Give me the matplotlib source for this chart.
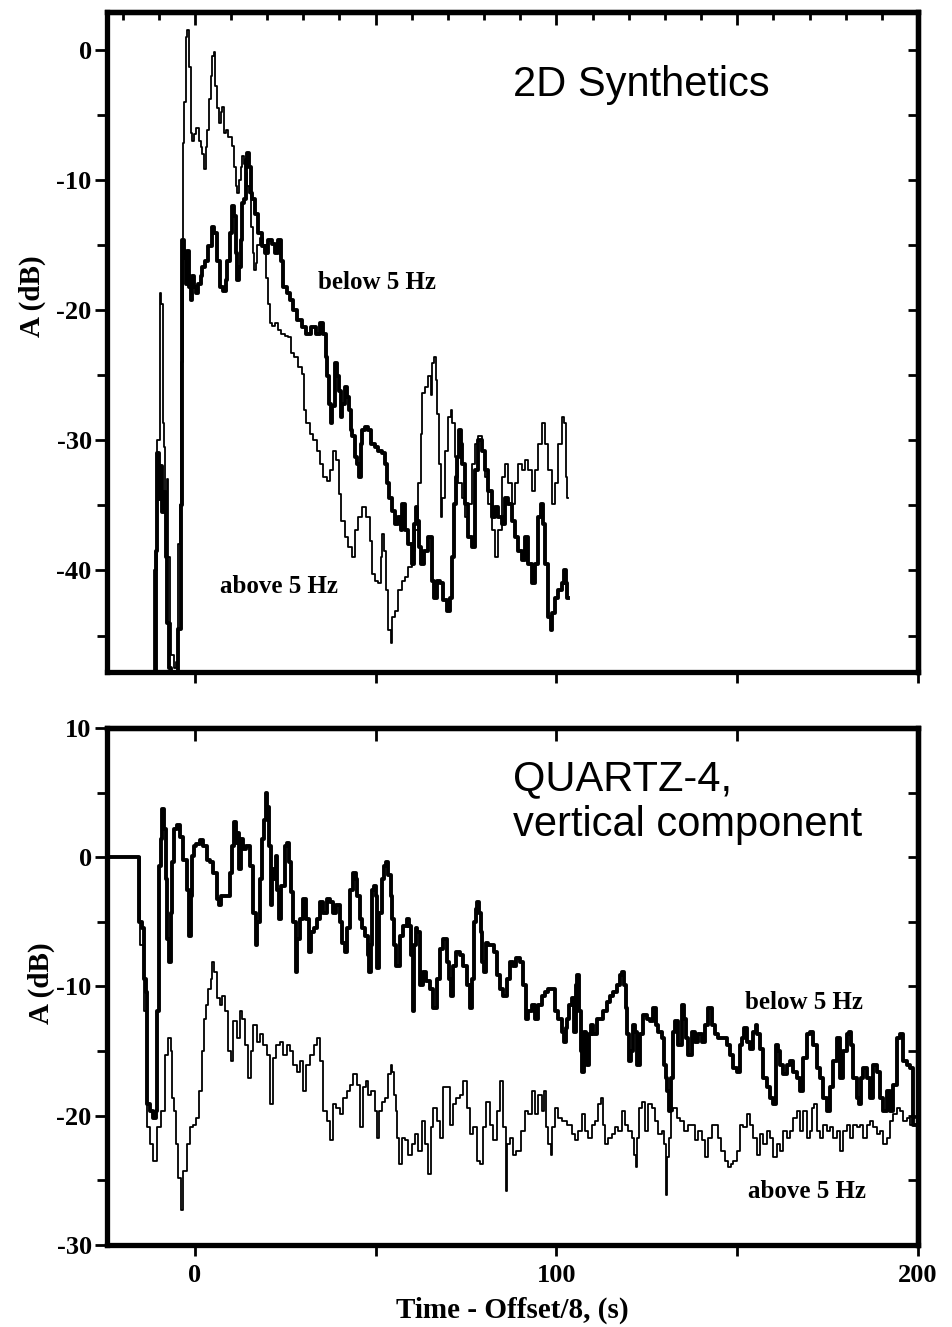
import numpy as np
import matplotlib.pyplot as plt
from matplotlib.ticker import MultipleLocator, NullFormatter

plt.rcParams['font.family'] = 'Liberation Serif'
plt.rcParams['font.weight'] = 'bold'
plt.rcParams['axes.labelweight'] = 'bold'
plt.rcParams['axes.unicode_minus'] = False

# 2D synthetics, below 5 Hz (thick)  -- (time, dB)
synth_below = [
    (-11.8, -50), (-10.7, -50), (-10.6, -38.5), (-10.2, -31.0), (-9.7, -34.5), (-9.2, -32.0),
    (-8.8, -35.5), (-8.3, -34.0), (-7.9, -39.0), (-7.5, -44.0), (-7.0, -47.5), (-6.2, -48.5),
    (-5.0, -48.5), (-4.2, -44.5), (-3.7, -35.0), (-3.2, -14.6), (-2.8, -16.0), (-2.3, -18.0),
    (-1.85, -15.5), (-1.4, -18.2), (-0.9, -19.2), (-0.5, -17.4), (0.0, -18.2), (0.5, -18.7),
    (1.4, -18.0), (1.8, -17.4), (2.3, -16.7), (3.2, -16.2), (4.2, -15.1), (5.1, -13.6),
    (5.5, -14.1), (6.5, -16.2), (7.4, -18.2), (8.3, -18.5), (8.8, -17.7), (9.2, -16.2),
    (10.1, -14.1), (10.6, -12.0), (11.1, -12.8), (11.5, -15.6), (12.0, -17.7), (12.5, -16.7),
    (12.9, -14.6), (13.4, -11.8), (13.8, -11.5), (14.3, -8.5), (14.8, -7.9), (15.2, -9.0),
    (15.7, -11.0), (16.1, -11.5), (17.1, -12.6), (18.0, -14.1), (18.9, -15.1), (19.8, -15.6),
    (20.7, -14.6), (21.7, -14.9), (22.6, -15.6), (23.5, -14.6), (24.0, -16.2), (24.9, -18.2),
    (25.8, -18.7), (26.7, -19.2), (27.7, -20.0), (29.0, -20.8), (30.4, -21.3), (31.3, -21.8),
    (32.7, -21.3), (34.1, -21.8), (35.0, -21.0), (36.0, -21.8), (36.4, -23.6), (36.9, -25.1),
    (37.3, -27.2), (37.8, -28.7), (38.3, -27.4), (39.2, -24.1), (39.6, -25.1), (40.1, -26.2),
    (40.6, -28.2), (41.0, -27.2), (41.9, -25.9), (42.4, -26.7), (42.9, -27.7), (43.3, -29.2),
    (43.8, -29.7), (44.7, -31.3), (45.2, -31.8), (45.6, -32.8), (46.1, -30.3), (46.6, -29.2),
    (47.5, -29.0), (48.4, -29.2), (49.3, -30.3), (50.2, -30.5), (51.2, -30.8), (52.1, -31.0),
    (53.0, -31.8), (53.5, -33.3), (53.9, -34.4), (54.9, -35.4), (55.8, -36.4), (56.7, -35.9),
    (57.2, -36.9), (57.6, -34.9), (58.5, -36.9), (59.5, -38.0), (60.4, -39.5), (60.9, -36.4),
    (61.3, -35.1), (61.8, -36.2), (62.2, -38.2), (62.7, -39.5), (64.1, -38.5), (65.0, -37.4),
    (65.9, -40.8), (66.4, -42.1), (67.3, -40.8), (68.2, -41.0), (69.2, -42.3), (70.1, -43.1),
    (71.0, -42.1), (71.5, -39.0), (71.9, -34.9), (72.4, -32.8), (72.8, -31.3), (73.3, -29.2),
    (73.8, -30.3), (74.2, -31.8), (75.1, -34.9), (76.1, -37.4), (77.0, -38.2), (77.9, -32.3),
    (78.8, -30.0), (79.8, -30.8), (80.7, -32.3), (81.6, -33.9), (82.5, -35.9), (83.4, -35.1),
    (84.4, -35.9), (85.3, -36.4), (86.2, -34.4), (87.1, -34.9), (88.1, -36.2), (89.0, -37.4),
    (89.9, -38.5), (90.8, -39.2), (91.7, -37.4), (92.7, -39.5), (93.6, -41.0), (94.5, -39.5),
    (95.4, -35.9), (95.9, -34.9), (96.4, -36.4), (97.3, -39.5), (98.2, -43.6), (98.7, -44.6),
    (99.1, -43.3), (100.0, -42.1), (100.9, -41.5), (101.9, -41.0), (102.3, -40.0), (102.8, -41.0),
    (103.3, -42.1),
]

# 2D synthetics, above 5 Hz (thin)
synth_above = [
    (-11.6, -50), (-10.9, -40.0), (-10.0, -30.0), (-9.5, -18.7), (-9.1, -19.5), (-8.8, -28.7),
    (-8.4, -30.5), (-8.0, -35.5), (-7.6, -33.0), (-7.2, -39.0), (-6.8, -44.0), (-6.3, -46.5),
    (-5.5, -47.5), (-4.8, -47.0), (-4.3, -38.0), (-3.9, -35.0), (-3.5, -24.0), (-3.2, -7.2),
    (-2.8, -4.0), (-2.3, 1.0), (-1.8, 1.5), (-1.4, -1.3), (-0.9, -6.4), (-0.5, -7.0),
    (0.0, -6.5), (0.5, -6.0), (0.9, -6.0), (1.4, -7.0), (1.8, -7.5), (2.3, -8.0),
    (2.8, -9.2), (3.2, -7.5), (3.7, -6.2), (4.2, -3.8), (4.6, -2.0), (5.1, -0.5),
    (5.4, -0.2), (6.0, -2.8), (6.5, -4.5), (6.9, -5.6), (7.4, -4.8), (7.8, -4.4),
    (8.3, -6.4), (8.8, -6.2), (9.7, -6.7), (10.6, -7.4), (11.1, -9.0), (11.5, -10.5),
    (12.0, -11.0), (12.5, -10.0), (12.9, -9.0), (13.4, -8.2), (13.8, -8.8), (14.3, -9.5),
    (14.8, -10.5), (15.2, -11.0), (15.7, -13.6), (16.2, -15.6), (16.6, -16.9), (17.1, -16.4),
    (17.5, -15.0), (18.4, -14.5), (19.3, -15.0), (20.1, -17.5), (20.6, -19.5), (21.1, -21.0),
    (21.7, -21.2), (22.6, -21.0), (23.5, -21.5), (24.4, -21.8), (25.4, -22.0), (26.3, -22.1),
    (26.7, -23.3), (28.1, -23.6), (29.0, -24.4), (30.0, -24.9), (30.4, -27.7), (31.3, -28.7),
    (32.3, -29.5), (33.2, -30.0), (34.1, -30.8), (35.0, -31.8), (36.0, -32.8), (36.9, -33.1),
    (37.8, -32.3), (38.7, -30.8), (39.6, -31.5), (40.1, -34.1), (41.0, -36.2), (41.9, -37.4),
    (42.9, -38.2), (43.8, -39.0), (44.7, -36.9), (45.6, -35.9), (47.0, -35.1), (47.9, -35.9),
    (48.9, -37.7), (49.3, -40.3), (50.2, -40.8), (51.2, -41.0), (51.6, -39.0), (52.1, -37.2),
    (52.6, -38.5), (53.0, -41.5), (53.9, -44.6), (54.4, -45.6), (54.9, -43.6), (55.8, -43.1),
    (56.7, -41.5), (57.6, -40.8), (58.5, -40.5), (59.5, -39.7), (60.4, -38.5), (61.3, -36.9),
    (62.2, -33.3), (62.7, -29.5), (63.2, -26.4), (64.1, -25.9), (65.0, -25.1), (65.5, -26.5),
    (65.9, -24.1), (66.4, -23.6), (66.8, -25.4), (67.3, -28.0), (67.8, -31.8), (68.2, -35.9),
    (68.7, -34.4), (69.6, -30.8), (70.5, -28.2), (71.0, -27.7), (71.5, -28.7), (72.4, -31.3),
    (73.3, -33.3), (74.2, -34.4), (75.1, -35.9), (76.1, -34.9), (77.0, -31.8), (77.9, -30.3),
    (78.8, -29.7), (79.8, -30.8), (80.7, -32.8), (81.6, -34.9), (82.5, -36.9), (83.4, -39.0),
    (84.4, -36.9), (85.3, -32.8), (86.2, -31.8), (87.1, -33.3), (88.1, -34.9), (89.0, -33.3),
    (89.9, -31.8), (90.8, -32.3), (91.7, -31.5), (92.7, -32.3), (93.6, -33.9), (94.5, -32.3),
    (95.4, -30.3), (96.4, -28.7), (97.3, -30.3), (98.2, -32.3), (99.1, -34.9), (100.0, -33.3),
    (100.9, -30.3), (101.9, -28.2), (102.3, -28.7), (102.8, -32.8), (103.3, -34.4),
]

# QUARTZ-4 vertical component, below 5 Hz (thick)
quartz_below = [
    (-24.3, 0.0), (-15.7, 0.0), (-15.2, -5.0), (-14.3, -5.5), (-13.8, -9.4), (-13.4, -10.4),
    (-12.9, -19.1), (-12.0, -19.6), (-11.1, -20.2), (-10.6, -19.6), (-10.1, -11.9), (-9.7, -0.7),
    (-9.2, 1.4), (-8.8, 3.7), (-8.3, 2.2), (-7.8, -1.7), (-7.4, -6.3), (-6.9, -8.1),
    (-6.5, -4.3), (-6.0, -0.4), (-5.5, 2.2), (-4.6, 2.5), (-3.7, 1.6), (-2.8, -0.2),
    (-1.8, -2.5), (-1.4, -6.1), (-0.9, -3.0), (-0.5, 0.1), (0.0, 0.9), (0.9, 1.0),
    (1.8, 1.3), (2.8, 0.9), (3.7, -0.2), (4.6, -0.4), (5.5, -1.2), (6.5, -3.2),
    (6.9, -3.7), (7.8, -3.0), (9.2, -3.0), (10.1, -1.2), (10.6, 0.9), (11.1, 2.7),
    (11.5, 1.1), (12.0, 1.9), (12.4, -0.9), (12.9, 1.4), (13.8, 0.6), (14.7, 0.9),
    (15.7, -0.7), (16.6, -4.3), (17.1, -6.8), (17.5, -5.0), (18.4, -1.7), (18.9, 1.4),
    (19.4, 2.9), (19.8, 5.0), (20.3, 3.9), (20.7, 0.9), (21.2, -3.7), (21.7, -0.9),
    (22.1, -1.7), (22.6, 0.1), (23.0, -2.5), (23.5, -4.8), (24.4, -2.2), (25.4, 0.9),
    (25.8, 1.1), (26.3, -0.4), (26.7, -2.7), (27.7, -5.0), (28.1, -8.9), (28.6, -6.3),
    (29.5, -4.8), (30.4, -3.2), (31.3, -4.8), (31.8, -7.3), (32.7, -5.8), (33.2, -5.5),
    (34.1, -4.8), (35.0, -3.5), (36.0, -4.3), (36.9, -3.2), (37.8, -3.5), (38.7, -4.3),
    (39.6, -3.7), (40.6, -5.0), (41.0, -6.6), (42.0, -7.3), (42.4, -5.5), (43.3, -2.5),
    (44.3, -1.2), (44.7, -1.7), (45.2, -3.0), (46.1, -4.8), (46.6, -5.5), (47.5, -6.1),
    (48.0, -7.6), (48.4, -8.9), (48.9, -6.8), (49.3, -2.5), (49.8, -2.2), (50.3, -3.0),
    (50.7, -8.6), (51.2, -4.3), (52.1, -1.7), (52.6, -0.7), (53.0, -0.4), (54.0, -1.4),
    (54.4, -3.0), (54.9, -4.8), (55.3, -6.8), (56.2, -8.4), (57.2, -6.1), (58.1, -5.3),
    (59.0, -4.8), (59.5, -5.3), (60.0, -7.6), (60.4, -11.9), (60.9, -6.8), (61.3, -5.5),
    (61.8, -5.8), (62.7, -9.9), (63.6, -8.9), (64.5, -9.6), (65.5, -10.2), (66.4, -11.7),
    (67.3, -9.4), (68.2, -7.1), (69.2, -6.3), (70.1, -8.1), (70.5, -9.4), (71.0, -10.7),
    (71.9, -8.4), (72.8, -7.3), (73.8, -7.6), (74.7, -8.4), (75.6, -9.9), (76.5, -11.7),
    (77.0, -9.4), (77.5, -5.0), (77.9, -4.0), (78.4, -3.5), (78.8, -4.3), (79.3, -5.8),
    (79.8, -8.1), (80.2, -8.9), (80.7, -6.6), (81.6, -6.8), (82.5, -6.8), (83.0, -7.3),
    (83.9, -9.1), (84.8, -10.2), (85.8, -10.7), (86.7, -9.4), (87.6, -8.1), (88.5, -8.4),
    (89.4, -7.8), (90.4, -8.1), (91.3, -9.9), (91.7, -12.5), (92.7, -11.9), (93.6, -11.4),
    (94.5, -12.5), (95.4, -11.4), (96.4, -10.7), (97.3, -10.4), (98.2, -10.2), (99.1, -10.2),
    (100.0, -11.9), (101.0, -12.5), (101.9, -13.5), (102.4, -14.3), (102.8, -13.2), (103.3, -12.5),
    (103.7, -11.4), (104.7, -10.9), (105.1, -13.5), (105.6, -9.9), (106.0, -9.1), (106.5, -11.9),
    (107.0, -15.0), (107.4, -16.6), (107.9, -13.5), (108.3, -15.3), (108.8, -16.1), (109.3, -13.7),
    (109.7, -13.0), (110.7, -13.7), (111.6, -12.5), (112.5, -12.5), (113.4, -11.9), (114.3, -11.2),
    (115.3, -10.7), (116.2, -10.4), (117.1, -9.9), (118.0, -9.1), (118.5, -8.9), (118.9, -9.9),
    (119.4, -11.7), (119.9, -13.7), (120.3, -15.8), (120.8, -15.0), (121.3, -13.0), (122.2, -13.5),
    (122.6, -16.1), (123.6, -13.7), (124.5, -12.2), (125.4, -12.5), (126.3, -12.7), (127.2, -11.7),
    (127.7, -13.0), (128.6, -13.5), (129.6, -14.0), (130.0, -16.1), (130.5, -17.1), (130.9, -18.1),
    (131.4, -19.6), (131.9, -17.1), (132.3, -13.5), (133.2, -12.7), (134.2, -14.5), (135.1, -11.4),
    (135.5, -12.5), (136.0, -14.0), (136.9, -15.3), (137.9, -13.5), (138.8, -14.3), (139.7, -13.7),
    (140.6, -14.3), (141.5, -13.0), (142.5, -11.7), (143.4, -13.0), (144.3, -13.7), (145.2, -14.0),
    (146.6, -14.0), (147.5, -14.5), (148.5, -15.3), (149.4, -16.3), (150.3, -16.6), (151.2, -14.5),
    (151.7, -14.0), (152.1, -13.2), (153.1, -14.3), (154.0, -14.8), (154.9, -13.5), (155.4, -13.0),
    (155.8, -13.7), (156.8, -14.8), (157.7, -17.1), (158.6, -17.8), (159.5, -18.6), (160.4, -19.1),
    (160.9, -14.5), (161.4, -15.0), (162.3, -16.1), (163.2, -16.8), (164.1, -16.1), (165.1, -15.8),
    (166.0, -16.6), (166.9, -17.1), (167.8, -18.1), (168.7, -15.5), (169.7, -13.7), (170.6, -13.5),
    (171.5, -14.5), (172.4, -16.3), (173.4, -17.1), (174.3, -18.6), (175.2, -19.6), (176.1, -17.8),
    (177.0, -15.8), (178.0, -14.0), (178.9, -17.1), (179.8, -15.0), (180.7, -13.7), (181.2, -13.5),
    (181.6, -14.5), (182.6, -17.1), (183.5, -18.6), (183.9, -19.1), (184.4, -17.1), (185.3, -16.3),
    (186.3, -17.1), (187.2, -18.6), (188.1, -16.1), (189.0, -16.6), (189.9, -18.6), (190.9, -19.6),
    (191.8, -18.1), (192.7, -19.6), (193.6, -17.6), (194.6, -14.0), (195.5, -13.7), (196.4, -15.8),
    (197.3, -16.1), (198.2, -16.3), (199.2, -20.7),
]

# QUARTZ-4 vertical component, above 5 Hz (thin)
quartz_above = [
    (-24.3, 0.0), (-15.7, 0.0), (-14.8, -6.8), (-13.4, -11.9), (-12.9, -20.9), (-12.0, -22.2),
    (-11.1, -23.5), (-10.1, -20.9), (-8.8, -19.6), (-7.8, -15.3), (-6.9, -14.0), (-6.5, -15.0),
    (-6.0, -18.6), (-5.5, -19.6), (-5.1, -22.2), (-4.2, -24.8), (-3.7, -27.3), (-2.8, -24.3),
    (-1.8, -22.2), (-0.9, -20.9), (0.0, -20.7), (0.9, -20.2), (1.4, -18.1), (2.3, -15.0),
    (2.8, -12.5), (3.2, -11.4), (4.1, -10.2), (4.6, -9.4), (5.1, -8.1), (5.5, -8.9),
    (6.5, -10.9), (7.4, -11.4), (7.8, -10.7), (8.8, -11.9), (9.7, -15.0), (10.1, -15.8),
    (11.1, -12.7), (12.0, -14.0), (12.9, -11.9), (13.4, -12.5), (14.3, -14.5), (15.2, -17.1),
    (15.7, -15.0), (16.6, -13.0), (17.5, -14.3), (18.4, -13.7), (19.4, -14.5), (20.3, -15.3),
    (21.2, -19.1), (22.1, -15.5), (23.0, -14.5), (24.0, -14.3), (24.9, -15.3), (25.8, -14.5),
    (26.7, -15.0), (27.7, -16.1), (28.6, -16.6), (29.5, -15.8), (30.4, -18.1), (31.3, -16.1),
    (32.3, -15.3), (33.7, -14.5), (34.1, -14.0), (35.0, -15.8), (36.0, -19.6), (36.9, -20.4),
    (37.8, -21.9), (38.7, -19.1), (39.6, -19.4), (40.6, -19.9), (41.5, -18.6), (42.4, -18.1),
    (43.3, -17.6), (44.3, -16.8), (45.2, -17.6), (46.1, -20.9), (47.0, -17.8), (47.5, -17.3),
    (48.4, -18.4), (49.3, -18.1), (50.3, -19.6), (50.7, -21.7), (51.2, -19.6), (52.1, -18.9),
    (53.0, -18.6), (54.0, -16.8), (54.4, -16.1), (54.9, -16.6), (55.3, -18.4), (55.8, -19.6),
    (56.2, -21.7), (56.7, -23.7), (57.6, -21.7), (58.5, -21.9), (59.5, -23.0), (60.4, -22.2),
    (61.3, -21.4), (62.2, -22.7), (63.2, -20.4), (64.1, -22.2), (65.0, -24.5), (65.5, -20.9),
    (66.4, -19.4), (67.3, -20.4), (68.2, -21.7), (69.2, -17.8), (70.1, -17.8), (71.0, -20.7),
    (71.9, -19.1), (72.8, -18.6), (73.8, -18.4), (74.7, -17.3), (75.6, -19.4), (76.5, -21.4),
    (77.5, -20.9), (78.4, -23.5), (79.3, -23.7), (80.2, -20.9), (81.1, -18.9), (82.1, -20.7),
    (83.0, -21.9), (83.9, -19.6), (84.8, -17.3), (85.8, -20.9), (86.2, -25.8), (86.7, -22.2),
    (87.6, -21.7), (88.5, -23.0), (89.4, -22.7), (90.8, -21.2), (91.7, -19.6), (92.7, -19.9),
    (93.6, -18.1), (94.5, -19.9), (95.4, -18.4), (96.4, -19.6), (96.8, -18.1), (97.3, -20.9),
    (98.2, -22.2), (98.7, -23.0), (99.1, -20.9), (100.0, -19.4), (101.0, -20.2), (101.9, -20.4),
    (103.7, -20.7), (104.7, -21.4), (105.6, -21.9), (106.5, -21.2), (107.4, -19.9), (108.3, -21.2),
    (109.3, -21.7), (110.2, -20.7), (111.1, -20.4), (112.0, -19.1), (112.5, -18.6), (113.0, -20.7),
    (113.9, -22.2), (114.8, -21.7), (115.7, -21.4), (116.6, -20.9), (117.6, -21.2), (118.5, -19.6),
    (119.4, -20.7), (120.3, -21.2), (121.3, -21.7), (121.7, -23.0), (122.2, -24.0), (122.6, -21.7),
    (123.1, -19.4), (124.0, -18.9), (124.9, -21.2), (125.9, -19.1), (126.8, -19.4), (127.7, -20.4),
    (128.6, -21.4), (129.6, -21.2), (130.0, -22.2), (130.5, -26.1), (130.9, -23.2), (131.4, -21.7),
    (131.9, -19.6), (132.8, -19.4), (133.7, -20.2), (134.6, -20.4), (136.0, -21.2), (136.9, -20.7),
    (137.9, -20.7), (138.8, -21.9), (139.7, -21.2), (140.6, -21.9), (141.5, -23.2), (142.5, -21.7),
    (143.4, -20.7), (144.3, -20.7), (145.2, -21.7), (146.1, -22.7), (147.1, -23.5), (148.0, -24.0),
    (148.5, -23.7), (149.4, -23.5), (150.3, -22.7), (151.2, -20.7), (152.1, -20.9), (153.1, -19.9),
    (154.0, -20.7), (154.9, -21.7), (155.8, -23.0), (156.8, -21.4), (157.7, -22.2), (158.6, -21.2),
    (159.5, -21.7), (160.4, -23.2), (161.4, -22.2), (162.3, -22.7), (163.2, -21.2), (164.1, -21.7),
    (165.1, -21.2), (166.0, -20.2), (166.9, -19.6), (167.8, -21.2), (168.7, -19.6), (169.7, -21.7),
    (170.6, -21.2), (171.0, -19.4), (171.5, -19.1), (172.4, -21.2), (173.4, -21.7), (174.3, -20.7),
    (175.2, -21.2), (176.1, -20.9), (177.0, -21.7), (178.0, -21.2), (178.9, -22.7), (179.8, -21.2),
    (180.7, -20.7), (181.6, -21.7), (182.6, -20.7), (183.5, -20.9), (184.4, -20.7), (185.3, -21.7),
    (186.3, -20.7), (187.2, -20.4), (188.1, -20.9), (189.0, -21.4), (189.9, -21.2), (190.9, -22.2),
    (191.8, -21.7), (192.7, -20.4), (193.6, -19.9), (194.6, -19.4), (195.5, -19.6), (196.4, -20.4),
    (197.3, -20.2), (198.2, -20.7), (199.2, -20.2),
]

top_yticks = [-40, -30, -20, -10, 0]
bot_yticks = [-30, -20, -10, 0, 10]
bot_xticks = [0, 100, 200]

THICK = 2.8
THIN = 1.3
SPINE = 3.8


def style_frame(ax, ymajor, ylim):
    ax.set_xlim(-24.3, 200)
    ax.set_ylim(*ylim)
    ax.set_yticks(ymajor)
    ax.yaxis.set_minor_locator(MultipleLocator(5))
    for s in ax.spines.values():
        s.set_linewidth(SPINE)
    ax.tick_params(axis='y', which='major', direction='out', length=9, width=2,
                   labelsize=19, pad=2)
    ax.tick_params(axis='y', which='minor', direction='out', length=7, width=2)
    ax.tick_params(axis='x', which='both', direction='out', length=8, width=2,
                   labelsize=19, pad=6)

    # inward ticks on the right side
    r = ax.secondary_yaxis('right')
    r.yaxis.set_major_locator(MultipleLocator(5))
    r.yaxis.set_major_formatter(NullFormatter())
    r.tick_params(direction='in', length=7, width=2)
    r.spines['right'].set_linewidth(SPINE)
    return r


fig = plt.figure(figsize=(9.52, 13.27), dpi=100)
ax1 = fig.add_axes([0.1124, 0.4936, 0.8519, 0.4974])
ax2 = fig.add_axes([0.1124, 0.0618, 0.8519, 0.3896])

# ---- top panel: 2D synthetics
style_frame(ax1, top_yticks, (-47.8, 2.9))
ax1.set_xticks([0, 50, 100, 150, 200])
ax1.set_xticklabels([])
t1 = ax1.secondary_xaxis('top')
t1.xaxis.set_major_locator(MultipleLocator(50))
t1.xaxis.set_minor_locator(MultipleLocator(10))
t1.xaxis.set_major_formatter(NullFormatter())
t1.tick_params(which='major', direction='in', length=9, width=2)
t1.tick_params(which='minor', direction='in', length=6, width=2)
t1.spines['top'].set_linewidth(SPINE)

sb = np.array(synth_below)
sa = np.array(synth_above)
ax1.plot(sa[:, 0], sa[:, 1], color='black', lw=THIN, drawstyle='steps-mid')
ax1.plot(sb[:, 0], sb[:, 1], color='black', lw=THICK, drawstyle='steps-mid')

ax1.set_ylabel('A (dB)', fontsize=21, fontweight='bold')
ax1.yaxis.set_label_coords(-0.075, 0.57)
ax1.text(0.5, 0.889, '2D Synthetics', transform=ax1.transAxes, family='Liberation Sans',
         weight='normal', fontsize=30, va='center', ha='left')
ax1.text(34.0, -17.9, 'below 5 Hz', fontsize=18, va='center', ha='left')
ax1.text(6.9, -41.2, 'above 5 Hz', fontsize=18, va='center', ha='left')

# ---- bottom panel: QUARTZ-4
style_frame(ax2, bot_yticks, (-30, 10))
ax2.set_xticks(bot_xticks)
ax2.xaxis.set_minor_locator(MultipleLocator(50))
t2 = ax2.secondary_xaxis('top')
t2.xaxis.set_major_locator(MultipleLocator(50))
t2.xaxis.set_major_formatter(NullFormatter())
t2.tick_params(direction='in', length=9, width=2)
t2.spines['top'].set_linewidth(SPINE)

qb = np.array(quartz_below)
qa = np.array(quartz_above)
ax2.plot(qa[:, 0], qa[:, 1], color='black', lw=THIN, drawstyle='steps-mid')
ax2.plot(qb[:, 0], qb[:, 1], color='black', lw=THICK, drawstyle='steps-mid')

ax2.set_ylabel('A (dB)', fontsize=21, fontweight='bold')
ax2.yaxis.set_label_coords(-0.064, 0.507)
ax2.set_xlabel('Time - Offset/8, (s)', fontsize=21, fontweight='bold')
ax2.xaxis.set_label_coords(0.5, -0.1)
ax2.text(0.5, 0.94, 'QUARTZ-4,\nvertical component', transform=ax2.transAxes,
         family='Liberation Sans', weight='normal', fontsize=30, va='top', ha='left',
         linespacing=1.2)
ax2.text(152.1, -11.2, 'below 5 Hz', fontsize=18, va='center', ha='left')
ax2.text(153.0, -25.9, 'above 5 Hz', fontsize=18, va='center', ha='left')

fig.savefig('out.png', dpi=100)
